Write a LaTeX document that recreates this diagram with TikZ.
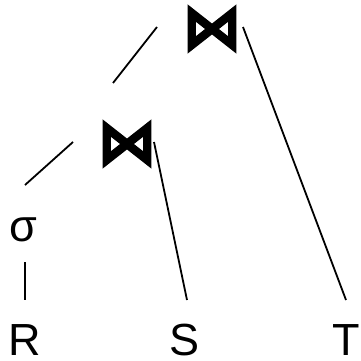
\documentclass[tikz,border=0pt]{standalone}
\usepackage{fontspec}
\setmainfont{Liberation Sans}
\newfontfamily\bowfont{DejaVu Sans Bold}[FakeBold=2.5]
\begin{document}
\begin{tikzpicture}[x=1pt,y=-1pt,
  lbl/.style={inner sep=0pt, font=\fontsize{45}{45}\selectfont},
  joinsym/.style={inner sep=0pt},
  edge/.style={line width=1.8pt}]
\useasboundingbox (0,0) rectangle (360,361);
\node[joinsym] (j1) at (212,29) {\resizebox{60pt}{43pt}{\bowfont ⋈}};
\node[joinsym] (j2) at (127,144) {\resizebox{60pt}{43pt}{\bowfont ⋈}};
\node[lbl] (sig) at (23,230) {σ};
\node[lbl] (R) at (25,340) {R};
\node[lbl] (S) at (185,340) {S};
\node[lbl] (T) at (346,340) {T};
\coordinate (j1l) at (157,27);
\coordinate (j1r) at (243,27);
\coordinate (j2t) at (113,83);
\coordinate (j2l) at (73,142);
\coordinate (j2r) at (154,142);
\coordinate (sigt) at (25,185);
\coordinate (sigb) at (25,262);
\coordinate (Rt) at (25,300);
\coordinate (St) at (187,300);
\coordinate (Tt) at (346,300);
\draw[edge] (j1l) -- (j2t);
\draw[edge] (j1r) -- (Tt);
\draw[edge] (j2l) -- (sigt);
\draw[edge] (j2r) -- (St);
\draw[edge] (sigb) -- (Rt);
\end{tikzpicture}
\end{document}
